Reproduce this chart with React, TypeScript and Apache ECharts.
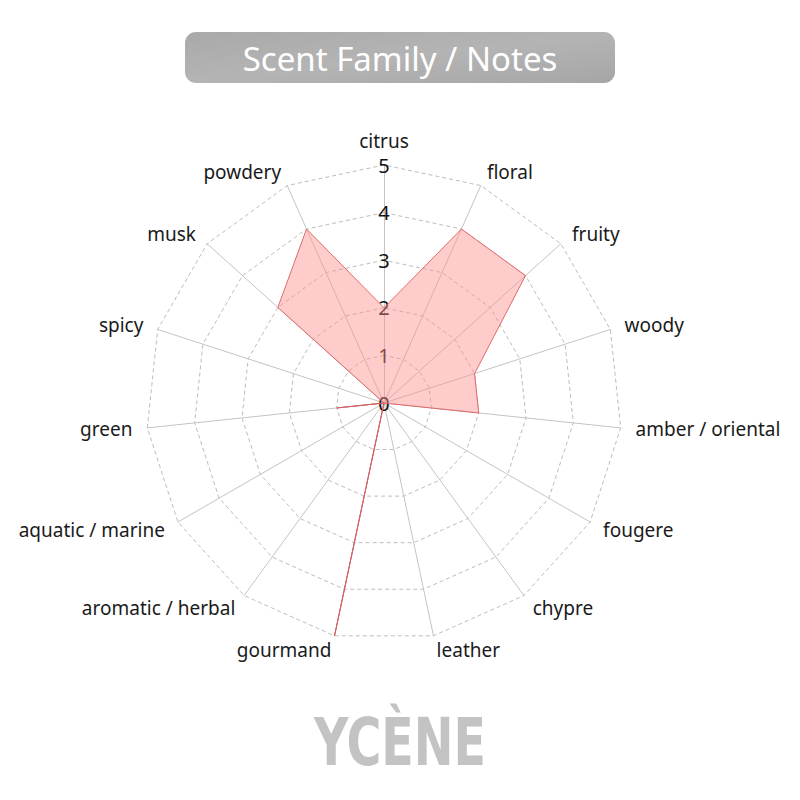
import React, { useEffect, useRef } from "react";
import * as echarts from "echarts";

const categories = [
  "citrus", "floral", "fruity", "woody", "amber / oriental", "fougere", "chypre", "leather",
  "gourmand", "aromatic / herbal", "aquatic / marine", "green", "spicy", "musk", "powdery",
];
const values = [2, 4, 4, 2, 2, 0, 0, 0, 5, 0, 0, 1, 0, 3, 4];
const maxValue = 5;
const titleText = "Scent Family / Notes";
const brandText = "YCÈNE";

export default function App() {
  const ref = useRef<HTMLDivElement>(null);
  useEffect(() => {
    if (!ref.current) return;
    const chart = echarts.init(ref.current, null, { renderer: "svg" });
    // ECharts radar runs counter-clockwise; reorder so the picture runs clockwise
    const order = [0, ...categories.map((_, i) => i).slice(1).reverse()];
    const indicator = order.map((i, k) => ({
      name: categories[i],
      min: 0,
      max: maxValue,
      ...(k === 0
        ? {
            axisLabel: {
              show: true,
              color: "#111",
              fontSize: 20,
              fontFamily: "Noto Sans",
              margin: 0,
              align: "center",
              verticalAlign: "middle",
              showMinLabel: true,
              showMaxLabel: true,
            },
          }
        : {}),
    }));
    chart.setOption({
      animation: false,
      backgroundColor: "#ffffff",
      radar: {
        center: [384, 403],
        radius: 238,
        shape: "polygon",
        splitNumber: 5,
        startAngle: 90,
        indicator,
        axisName: {
          color: "#1a1a1a",
          fontSize: 19,
          fontFamily: "Noto Sans",
        },
        nameGap: 15,
        axisLine: { lineStyle: { color: "#c4c4c4", width: 1 } },
        splitLine: { lineStyle: { color: "#bdbdbd", type: [4, 3], width: 1 } },
        splitArea: { show: false },
        axisTick: { show: false },
        axisLabel: { show: false },
      },
      series: [
        {
          type: "radar",
          symbol: "none",
          lineStyle: { color: "#d65f5f", width: 1 },
          areaStyle: { color: "#ff8f8f", opacity: 0.45 },
          data: [{ value: order.map((i) => values[i]), name: "notes" }],
        },
      ],
      graphic: [
        {
          type: "group",
          left: 185,
          top: 32,
          children: [
            {
              type: "rect",
              shape: { x: 0, y: 0, width: 430, height: 51, r: 11 },
              style: {
                fill: new echarts.graphic.LinearGradient(0, 0, 1, 1, [
                  { offset: 0, color: "#a9a9a9" },
                  { offset: 0.5, color: "#b4b4b4" },
                  { offset: 1, color: "#a6a6a6" },
                ]),
              },
            },
            {
              type: "text",
              x: 215,
              y: 26,
              style: {
                text: titleText,
                fill: "#ffffff",
                fontSize: 33,
                fontFamily: "Noto Sans",
                align: "center",
                verticalAlign: "middle",
              },
            },
          ],
        },
        {
          type: "text",
          x: 400,
          y: 742,
          scaleX: 0.8,
          scaleY: 1,
          scale: [0.8, 1],
          style: {
            text: brandText,
            fill: "#c3c3c3",
            fontSize: 66,
            fontWeight: "bold",
            fontFamily: "Liberation Sans Narrow, DejaVu Sans Condensed, sans-serif",
            align: "center",
            verticalAlign: "middle",
          },
        },
      ],
    });
    return () => chart.dispose();
  }, []);
  return (
    <div
      ref={ref}
      style={{ position: "fixed", left: 0, top: 0, width: 800, height: 800 }}
    />
  );
}
